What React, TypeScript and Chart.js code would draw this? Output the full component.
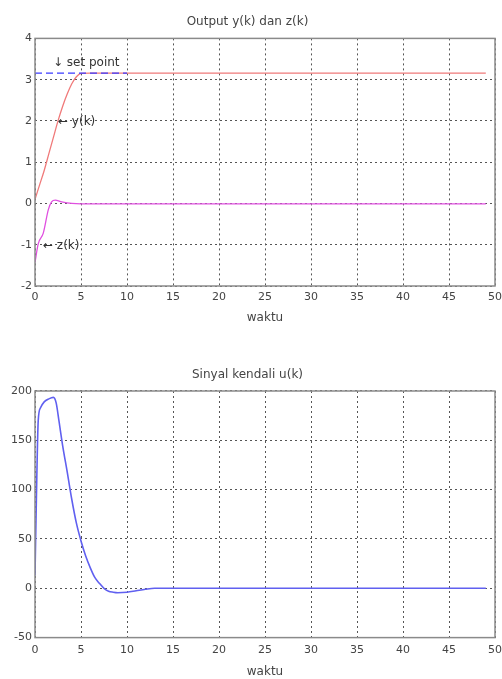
import React, { useEffect, useRef } from "react";
import { Chart, registerables } from "chart.js";

Chart.register(...registerables);

// ---------- data ----------
const topTitle = "Output y(k) dan z(k)";
const bottomTitle = "Sinyal kendali u(k)";
const xLabel = "waktu";

const xMin = 0;
const xMax = 50;
const xStep = 5;

const topYMin = -2;
const topYMax = 4;
const topYStep = 1;

const bottomYMin = -50;
const bottomYMax = 200;
const bottomYStep = 50;

const setPointT = [0, 10];
const setPointV = [3.16, 3.16];

const yT = [0, 0.5, 1, 1.5, 2, 2.5, 3, 3.5, 4, 4.5, 5, 6, 49];
const yV = [0.1, 0.45, 0.8, 1.2, 1.6, 2.0, 2.35, 2.65, 2.9, 3.07, 3.15, 3.16, 3.16];

const zT = [0, 0.35, 0.9, 1.45, 1.8, 2.2, 2.9, 4, 5, 49];
const zV = [-1.43, -0.98, -0.72, -0.15, 0.04, 0.08, 0.04, 0.0, -0.01, -0.01];

const uT = [0, 0.15, 0.35, 0.6, 1.0, 1.5, 2.0, 2.3, 2.6, 3, 3.5, 4, 4.5, 5, 5.5, 6, 6.5, 7, 7.5, 8, 8.5, 9, 10, 11, 12, 13, 15, 49];
const uV = [13, 90, 170, 183, 189, 192, 193.5, 188, 170, 145, 118, 90, 66, 48, 33, 21, 11, 5, 0, -3, -4, -4.5, -4, -2.5, -1, 0, 0, 0];

const topNotes = [
  { text: "\u2193 set point", x: 1.95, y: 3.4 },
  { text: "\u2190 y(k)", x: 2.5, y: 1.98 },
  { text: "\u2190 z(k)", x: 0.87, y: -1.03 },
];

// ---------- helpers ----------
const pts = (t: number[], v: number[]) => t.map((x, i) => ({ x, y: v[i] }));

const FONT = "'DejaVu Sans', 'Liberation Sans', sans-serif";
const textColor = "#444";

const framePlugin = {
  id: "frame",
  afterDraw(chart: any) {
    const { ctx, chartArea: a } = chart;
    ctx.save();
    ctx.strokeStyle = "#8a8a8a";
    ctx.lineWidth = 1.5;
    ctx.strokeRect(a.left, a.top, a.right - a.left, a.bottom - a.top);
    ctx.restore();
  },
};

const makeNotes = (items: { text: string; x: number; y: number }[]) => ({
  id: "notes",
  afterDatasetsDraw(chart: any) {
    const { ctx, scales } = chart;
    ctx.save();
    ctx.fillStyle = "#333";
    ctx.font = `12px ${FONT}`;
    ctx.textAlign = "left";
    ctx.textBaseline = "middle";
    items.forEach((it) => {
      ctx.fillText(it.text, scales.x.getPixelForValue(it.x), scales.y.getPixelForValue(it.y));
    });
    ctx.restore();
  },
});

function buildOptions(
  title: string,
  titlePad: { top: number; bottom: number },
  yMin: number,
  yMax: number,
  yStep: number,
  tickPad: number,
  xTitlePad: { top: number; bottom: number }
) {
  const grid = { color: "#555", lineWidth: 1, drawTicks: false };
  const border = { display: false, dash: [2, 3] };
  return {
    responsive: false,
    animation: false as const,
    layout: { padding: { left: 0, right: 7, top: 0, bottom: 0 } },
    plugins: {
      legend: { display: false },
      tooltip: { enabled: false },
      title: {
        display: true,
        text: title,
        color: textColor,
        font: { family: FONT, size: 12, weight: "normal" as const, lineHeight: 1.2 },
        padding: titlePad,
      },
    },
    scales: {
      x: {
        type: "linear" as const,
        min: xMin,
        max: xMax,
        ticks: {
          stepSize: xStep,
          padding: tickPad,
          color: textColor,
          font: { family: FONT, size: 11, lineHeight: 1.2 },
          maxRotation: 0,
          autoSkip: false,
        },
        grid,
        border,
        title: {
          display: true,
          text: xLabel,
          color: textColor,
          font: { family: FONT, size: 12, lineHeight: 1.2 },
          padding: xTitlePad,
        },
        afterFit: (s: any) => {
          s.paddingRight = 0;
          s.paddingLeft = 0;
        },
      },
      y: {
        type: "linear" as const,
        min: yMin,
        max: yMax,
        ticks: {
          stepSize: yStep,
          padding: 3,
          color: textColor,
          font: { family: FONT, size: 11, lineHeight: 1.2 },
        },
        grid,
        border,
        afterFit: (s: any) => {
          s.width = 35;
        },
      },
    },
  };
}

function ChartCanvas({ config, width, height, top }: { config: any; width: number; height: number; top: number }) {
  const ref = useRef<HTMLCanvasElement | null>(null);
  useEffect(() => {
    if (!ref.current) return;
    const chart = new Chart(ref.current, config);
    return () => chart.destroy();
  }, []);
  return (
    <canvas
      ref={ref}
      width={width}
      height={height}
      style={{ position: "absolute", left: 0, top, width, height, display: "block" }}
    />
  );
}

export default function App() {
  const lineBase = { pointRadius: 0, borderWidth: 1.3, fill: false, cubicInterpolationMode: "monotone" as const };

  const topConfig = {
    type: "line",
    data: {
      datasets: [
        { ...lineBase, label: "set point", data: pts(setPointT, setPointV), borderColor: "#3a3aff", borderDash: [7, 4] },
        { ...lineBase, label: "y(k)", data: pts(yT, yV), borderColor: "#f07a7a" },
        { ...lineBase, label: "z(k)", data: pts(zT, zV), borderColor: "#e050e0" },
      ],
    },
    options: buildOptions(topTitle, { top: 15, bottom: 9 }, topYMin, topYMax, topYStep, 5, { top: 1, bottom: 5.4 }),
    plugins: [framePlugin, makeNotes(topNotes)],
  };

  const bottomConfig = {
    type: "line",
    data: {
      datasets: [
        { ...lineBase, label: "u(k)", data: pts(uT, uV), borderColor: "#6060f0", borderWidth: 1.6 },
      ],
    },
    options: buildOptions(bottomTitle, { top: 32.8, bottom: 8.8 }, bottomYMin, bottomYMax, bottomYStep, 6.4, { top: 1, bottom: 0 }),
    plugins: [framePlugin],
  };

  return (
    <div style={{ position: "fixed", left: 0, top: 0, width: 502, height: 679, background: "#fff", overflow: "hidden" }}>
      <ChartCanvas config={topConfig} width={502} height={330} top={0} />
      <ChartCanvas config={bottomConfig} width={502} height={344} top={335} />
    </div>
  );
}
